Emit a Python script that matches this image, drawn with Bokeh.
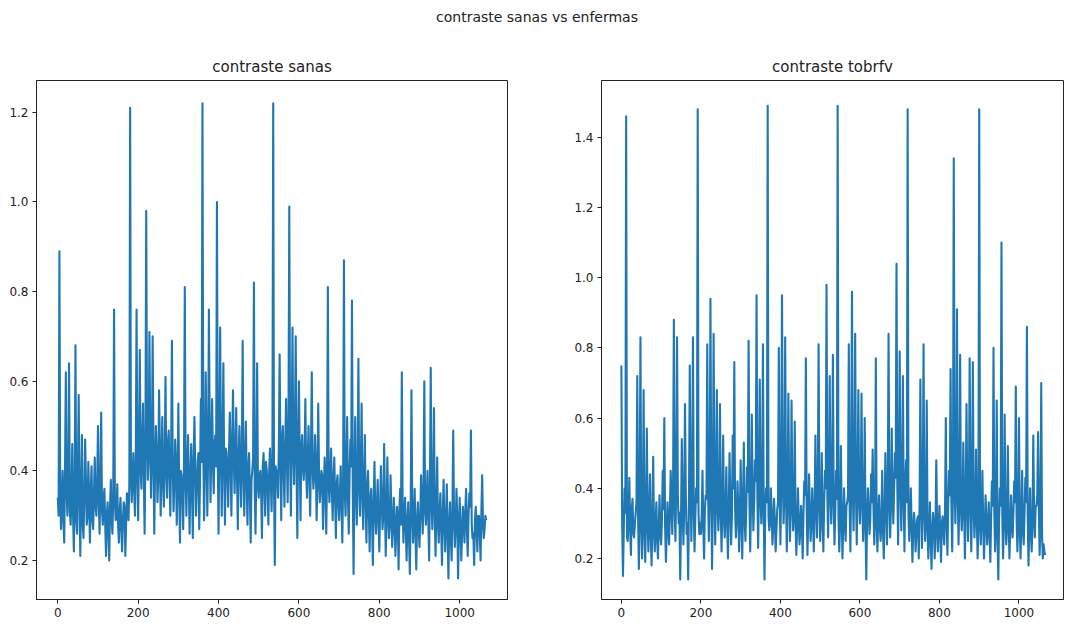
from bokeh.plotting import figure
from bokeh.layouts import column, row
from bokeh.models import Div, Range1d, FixedTicker, PrintfTickFormatter
from bokeh.embed import file_html
from bokeh.resources import INLINE

suptitle = "contraste sanas vs enfermas"
title_left = "contraste sanas"
title_right = "contraste tobrfv"

step = 4  # spacing of each reading list (image index); the *_mid lists sit halfway

sanas = [
    0.34, 0.89, 0.27, 0.40, 0.24, 0.62, 0.30, 0.64, 0.28, 0.46, 0.22, 0.68, 0.26, 0.57, 0.21, 0.48, 0.25, 0.47, 0.28, 0.42, 0.24, 0.41, 0.27, 0.43, 0.30,
    0.50, 0.26, 0.53, 0.28, 0.36, 0.21, 0.33, 0.20, 0.38, 0.26, 0.76, 0.29, 0.37, 0.24, 0.34, 0.22, 0.33, 0.21, 0.35, 0.29, 1.21, 0.33, 0.44, 0.30, 0.76,
    0.29, 0.67, 0.36, 0.55, 0.26, 0.98, 0.38, 0.71, 0.34, 0.70, 0.26, 0.50, 0.33, 0.58, 0.30, 0.52, 0.32, 0.61, 0.34, 0.49, 0.30, 0.69, 0.31, 0.47, 0.28,
    0.55, 0.24, 0.39, 0.27, 0.81, 0.30, 0.48, 0.26, 0.46, 0.25, 0.52, 0.30, 0.42, 0.27, 0.56, 1.22, 0.29, 0.62, 0.30, 0.76, 0.33, 0.56, 0.35, 0.48, 1.00,
    0.26, 0.72, 0.30, 0.64, 0.28, 0.44, 0.32, 0.53, 0.30, 0.58, 0.35, 0.54, 0.27, 0.50, 0.32, 0.69, 0.30, 0.51, 0.28, 0.44, 0.24, 0.40, 0.82, 0.26, 0.64,
    0.34, 0.40, 0.25, 0.44, 0.30, 0.40, 0.28, 0.45, 0.31, 1.22, 0.19, 0.40, 0.34, 0.66, 0.29, 0.50, 0.32, 0.56, 0.33, 0.99, 0.30, 0.72, 0.37, 0.70, 0.25,
    0.60, 0.29, 0.48, 0.38, 0.56, 0.34, 0.50, 0.30, 0.62, 0.36, 0.48, 0.29, 0.55, 0.33, 0.40, 0.27, 0.43, 0.26, 0.81, 0.33, 0.45, 0.29, 0.43, 0.25, 0.39,
    0.29, 0.41, 0.24, 0.87, 0.30, 0.52, 0.26, 0.47, 0.78, 0.17, 0.52, 0.28, 0.65, 0.30, 0.55, 0.27, 0.48, 0.24, 0.40, 0.22, 0.36, 0.19, 0.42, 0.26, 0.38,
    0.22, 0.41, 0.27, 0.46, 0.21, 0.43, 0.25, 0.39, 0.23, 0.34, 0.21, 0.32, 0.18, 0.36, 0.62, 0.24, 0.34, 0.20, 0.33, 0.17, 0.58, 0.24, 0.36, 0.18, 0.33,
    0.23, 0.39, 0.26, 0.60, 0.28, 0.40, 0.20, 0.63, 0.27, 0.54, 0.21, 0.43, 0.24, 0.35, 0.19, 0.38, 0.22, 0.37, 0.16, 0.33, 0.20, 0.49, 0.23, 0.36, 0.16,
    0.34, 0.20, 0.32, 0.24, 0.36, 0.21, 0.35, 0.49, 0.25, 0.19, 0.32, 0.22, 0.30, 0.20, 0.39, 0.25, 0.30,
]

sanas_mid = [
    0.30, 0.36, 0.33, 0.29, 0.41, 0.35, 0.38, 0.31, 0.34, 0.30, 0.37, 0.29, 0.40, 0.33, 0.36, 0.28, 0.34, 0.38, 0.30, 0.33, 0.36, 0.29, 0.35, 0.32, 0.37,
    0.33, 0.38, 0.31, 0.34, 0.28, 0.30, 0.26, 0.32, 0.29, 0.35, 0.33, 0.30, 0.28, 0.31, 0.27, 0.29, 0.32, 0.28, 0.33, 0.37, 0.41, 0.38, 0.36, 0.42, 0.40,
    0.45, 0.41, 0.47, 0.39, 0.44, 0.50, 0.43, 0.48, 0.42, 0.46, 0.40, 0.44, 0.38, 0.45, 0.41, 0.37, 0.43, 0.40, 0.46, 0.39, 0.44, 0.41, 0.37, 0.42, 0.38,
    0.36, 0.40, 0.34, 0.42, 0.38, 0.41, 0.37, 0.39, 0.35, 0.43, 0.40, 0.36, 0.44, 0.39, 0.42, 0.45, 0.40, 0.47, 0.43, 0.49, 0.45, 0.42, 0.46, 0.41, 0.44,
    0.47, 0.43, 0.46, 0.40, 0.45, 0.39, 0.44, 0.41, 0.47, 0.42, 0.45, 0.38, 0.43, 0.40, 0.44, 0.39, 0.42, 0.37, 0.41, 0.35, 0.38, 0.43, 0.36, 0.40, 0.37,
    0.39, 0.35, 0.41, 0.37, 0.42, 0.36, 0.40, 0.38, 0.43, 0.37, 0.41, 0.39, 0.45, 0.42, 0.47, 0.40, 0.46, 0.43, 0.50, 0.45, 0.48, 0.44, 0.49, 0.42, 0.46,
    0.43, 0.45, 0.41, 0.44, 0.40, 0.43, 0.38, 0.45, 0.41, 0.39, 0.42, 0.37, 0.40, 0.36, 0.39, 0.35, 0.38, 0.40, 0.37, 0.39, 0.36, 0.38, 0.34, 0.37, 0.33,
    0.35, 0.32, 0.38, 0.36, 0.40, 0.34, 0.39, 0.41, 0.36, 0.38, 0.35, 0.40, 0.37, 0.41, 0.34, 0.38, 0.33, 0.36, 0.31, 0.34, 0.29, 0.33, 0.30, 0.32, 0.29,
    0.31, 0.34, 0.30, 0.33, 0.29, 0.32, 0.28, 0.31, 0.27, 0.30, 0.26, 0.29, 0.31, 0.28, 0.33, 0.30, 0.27, 0.29, 0.25, 0.30, 0.32, 0.28, 0.26, 0.29, 0.27,
    0.30, 0.33, 0.35, 0.31, 0.34, 0.29, 0.37, 0.33, 0.36, 0.30, 0.32, 0.28, 0.31, 0.27, 0.30, 0.28, 0.29, 0.26, 0.28, 0.25, 0.31, 0.29, 0.27, 0.30, 0.26,
    0.28, 0.26, 0.29, 0.31, 0.27, 0.30, 0.32, 0.28, 0.26, 0.29, 0.27, 0.30, 0.26, 0.31, 0.28, 0.27, 0.29,
]

tobrfv = [
    0.75, 0.15, 0.40, 1.46, 0.25, 0.43, 0.21, 0.37, 0.26, 0.33, 0.72, 0.17, 0.83, 0.20, 0.68, 0.19, 0.57, 0.22, 0.44, 0.18, 0.49, 0.22, 0.36, 0.20, 0.38,
    0.24, 0.45, 0.60, 0.19, 0.36, 0.24, 0.45, 0.27, 0.88, 0.25, 0.83, 0.30, 0.14, 0.54, 0.24, 0.64, 0.27, 0.14, 0.75, 0.25, 0.83, 0.22, 0.40, 1.48, 0.27,
    0.27, 0.45, 0.20, 0.38, 0.81, 0.25, 0.94, 0.17, 0.84, 0.24, 0.68, 0.28, 0.64, 0.22, 0.55, 0.26, 0.46, 0.20, 0.50, 0.24, 0.55, 0.76, 0.26, 0.42, 0.22,
    0.48, 0.20, 0.53, 0.25, 0.46, 0.82, 0.22, 0.61, 0.28, 0.48, 0.95, 0.23, 0.71, 0.30, 0.81, 0.14, 0.40, 1.49, 0.28, 0.40, 0.24, 0.37, 0.22, 0.34, 0.80,
    0.24, 0.95, 0.30, 0.83, 0.22, 0.67, 0.25, 0.65, 0.28, 0.59, 0.21, 0.40, 0.24, 0.35, 0.20, 0.42, 0.77, 0.21, 0.44, 0.25, 0.40, 0.22, 0.55, 0.26, 0.81,
    0.25, 0.50, 0.22, 0.45, 0.98, 0.26, 0.72, 0.30, 0.78, 0.24, 0.45, 1.49, 0.22, 0.52, 0.20, 0.40, 0.25, 0.36, 0.81, 0.22, 0.96, 0.28, 0.84, 0.24, 0.68,
    0.30, 0.67, 0.25, 0.60, 0.14, 0.40, 0.27, 0.44, 0.51, 0.24, 0.77, 0.22, 0.38, 0.25, 0.45, 0.20, 0.50, 0.24, 0.84, 0.26, 0.57, 0.30, 0.50, 1.04, 0.24,
    0.79, 0.28, 0.72, 0.22, 0.48, 1.48, 0.25, 0.40, 0.19, 0.33, 0.22, 0.31, 0.20, 0.71, 0.23, 0.81, 0.25, 0.65, 0.20, 0.36, 0.17, 0.33, 0.20, 0.48, 0.22,
    0.35, 0.19, 0.32, 0.24, 0.60, 0.21, 0.45, 0.74, 0.22, 1.34, 0.30, 0.91, 0.24, 0.78, 0.28, 0.53, 0.20, 0.64, 0.25, 0.77, 0.22, 0.76, 0.26, 0.51, 0.20,
    1.48, 0.24, 0.45, 0.20, 0.38, 0.24, 0.36, 0.19, 0.42, 0.80, 0.22, 0.65, 0.14, 0.40, 1.10, 0.20, 0.61, 0.24, 0.52, 0.20, 0.38, 0.26, 0.42, 0.69, 0.22,
    0.60, 0.20, 0.45, 0.24, 0.43, 0.86, 0.18, 0.40, 0.22, 0.55, 0.26, 0.35, 0.56, 0.21, 0.70, 0.20, 0.22,
]

tobrfv_mid = [
    0.30, 0.28, 0.33, 0.26, 0.31, 0.29, 0.34, 0.27, 0.30, 0.36, 0.32, 0.38, 0.29, 0.35, 0.27, 0.33, 0.30, 0.34, 0.26, 0.31, 0.28, 0.30, 0.25, 0.29, 0.27,
    0.31, 0.34, 0.29, 0.27, 0.30, 0.33, 0.36, 0.40, 0.35, 0.42, 0.38, 0.33, 0.31, 0.36, 0.34, 0.39, 0.30, 0.37, 0.42, 0.39, 0.35, 0.32, 0.36, 0.33, 0.30,
    0.32, 0.29, 0.34, 0.37, 0.40, 0.38, 0.43, 0.36, 0.41, 0.39, 0.35, 0.37, 0.33, 0.36, 0.31, 0.34, 0.30, 0.33, 0.36, 0.32, 0.40, 0.34, 0.31, 0.35, 0.30,
    0.33, 0.36, 0.31, 0.34, 0.39, 0.37, 0.35, 0.40, 0.36, 0.42, 0.38, 0.41, 0.37, 0.39, 0.33, 0.35, 0.36, 0.32, 0.30, 0.33, 0.29, 0.31, 0.28, 0.36, 0.39,
    0.41, 0.44, 0.38, 0.40, 0.37, 0.39, 0.35, 0.36, 0.33, 0.31, 0.29, 0.32, 0.28, 0.30, 0.33, 0.38, 0.35, 0.31, 0.34, 0.30, 0.32, 0.33, 0.36, 0.39, 0.37,
    0.34, 0.31, 0.36, 0.40, 0.38, 0.41, 0.39, 0.42, 0.36, 0.34, 0.37, 0.32, 0.30, 0.33, 0.29, 0.31, 0.35, 0.38, 0.36, 0.42, 0.40, 0.44, 0.39, 0.41, 0.37,
    0.39, 0.36, 0.33, 0.30, 0.32, 0.34, 0.31, 0.36, 0.35, 0.33, 0.30, 0.32, 0.29, 0.31, 0.28, 0.33, 0.36, 0.39, 0.37, 0.35, 0.38, 0.40, 0.43, 0.41, 0.44,
    0.42, 0.40, 0.38, 0.41, 0.36, 0.33, 0.31, 0.29, 0.28, 0.30, 0.27, 0.32, 0.35, 0.38, 0.36, 0.34, 0.32, 0.29, 0.27, 0.26, 0.28, 0.30, 0.27, 0.31, 0.29,
    0.27, 0.30, 0.28, 0.33, 0.31, 0.35, 0.38, 0.36, 0.40, 0.43, 0.41, 0.39, 0.37, 0.35, 0.33, 0.36, 0.34, 0.38, 0.36, 0.40, 0.37, 0.35, 0.33, 0.31, 0.29,
    0.34, 0.32, 0.30, 0.28, 0.31, 0.29, 0.27, 0.32, 0.35, 0.33, 0.30, 0.28, 0.31, 0.35, 0.33, 0.30, 0.32, 0.29, 0.31, 0.28, 0.30, 0.33, 0.36, 0.32, 0.30,
    0.29, 0.31, 0.28, 0.33, 0.36, 0.32, 0.29, 0.27, 0.30, 0.33, 0.35, 0.38, 0.34, 0.31, 0.27, 0.24, 0.21,
]

x_ticks = [0, 200, 400, 600, 800, 1000]
y_ticks_left = [0.2, 0.4, 0.6, 0.8, 1.0, 1.2]
y_ticks_right = [0.2, 0.4, 0.6, 0.8, 1.0, 1.2, 1.4]

LINE = "#1f77b4"
FONT = "DejaVu Sans"


def merge(main, mid):
    xs, ys = [], []
    for i, v in enumerate(main):
        xs.append(i * step)
        ys.append(v)
        if i < len(mid):
            xs.append(i * step + step // 2)
            ys.append(mid[i])
    return xs, ys


def make_panel(title, values, mids, yticks, y0, y1, x0, x1, width, bl, br):
    xs, ys = merge(values, mids)
    p = figure(width=width, height=581, output_backend="svg", toolbar_location=None,
               x_range=Range1d(x0, x1), y_range=Range1d(y0, y1),
               min_border_left=bl, min_border_right=br,
               min_border_top=38, min_border_bottom=24, title=title)
    p.line(xs, ys, line_color=LINE, line_width=2.1, line_join="round")
    p.title.align = "center"
    p.title.text_font = FONT
    p.title.text_font_style = "normal"
    p.title.text_font_size = "15px"
    p.title.text_color = "#222222"
    p.title.offset = 0
    p.title.standoff = 10
    p.xgrid.visible = False
    p.ygrid.visible = False
    p.outline_line_color = "#222222"
    p.outline_line_width = 1
    p.outline_line_alpha = 1
    p.background_fill_color = "white"
    p.border_fill_color = "white"
    for ax in (p.xaxis[0], p.yaxis[0]):
        ax.axis_line_color = "#222222"
        ax.major_tick_in = 0
        ax.major_tick_out = 4
        ax.minor_tick_out = 0
        ax.minor_tick_in = 0
        ax.major_tick_line_color = "#222222"
        ax.major_label_text_font = FONT
        ax.major_label_text_font_size = "12px"
        ax.major_label_text_color = "#222222"
        ax.major_label_standoff = 4
    p.xaxis.ticker = FixedTicker(ticks=x_ticks)
    p.yaxis.ticker = FixedTicker(ticks=yticks)
    p.yaxis.formatter = PrintfTickFormatter(format="%.1f")
    return p


p1 = make_panel(title_left, sanas, sanas_mid, y_ticks_left, 0.113, 1.271, -53, 1119, 552, 36, 45)
p2 = make_panel(title_right, tobrfv, tobrfv_mid, y_ticks_right, 0.083, 1.562, -50, 1112, 512, 49, 1)

header = Div(text=suptitle, width=1064, height=32,
             styles={"text-align": "center", "font-family": FONT, "font-size": "14px",
                     "color": "#222222", "padding-top": "2px", "width": "1064px"})

layout = column(header, row(p1, p2, spacing=0), spacing=0)

open("out.html", "w").write(file_html(layout, INLINE))
